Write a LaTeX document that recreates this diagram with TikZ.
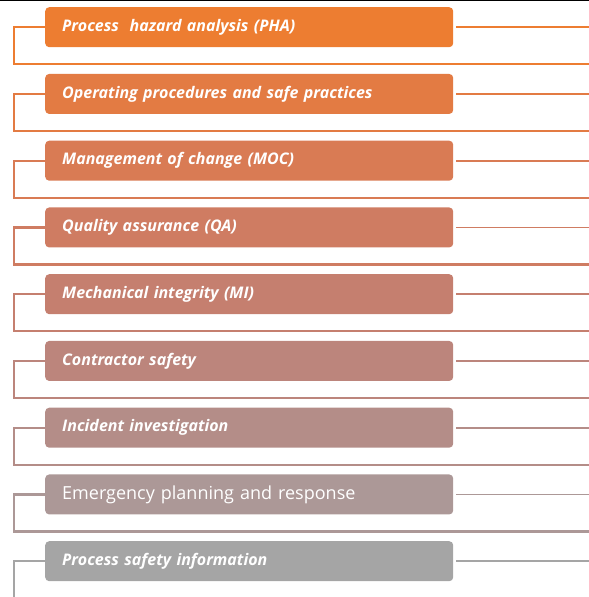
\documentclass[tikz,border=0pt]{standalone}
\usepackage{fontspec}
\setmainfont{Open Sans}
\usetikzlibrary{calc}
% shades running from orange into grey
\definecolor{pha}{RGB}{237,125,49}
\definecolor{opp}{RGB}{227,123,67}
\definecolor{moc}{RGB}{217,123,84}
\definecolor{qa}{RGB}{207,124,98}
\definecolor{mi}{RGB}{197,127,111}
\definecolor{cs}{RGB}{188,133,124}
\definecolor{ii}{RGB}{180,141,136}
\definecolor{epr}{RGB}{172,152,151}
\definecolor{psi}{RGB}{165,165,165}
\begin{document}
\begin{tikzpicture}[x=1bp,y=1bp,
  elem/.style={fill=#1,rounded corners=4bp,anchor=north west,minimum height=40bp,
    text width=374bp,inner xsep=17bp,align=left,text=white,
    font=\fontsize{16bp}{18bp}\selectfont\bfseries\itshape},
  link/.style={draw=#1,line width=2.2bp},
  tail/.style={draw=#1,line width=1.8bp}]
\useasboundingbox (0,0) rectangle (589,597);
\draw[line width=1.5bp] (0,596.25) -- (589,596.25);
\coordinate (left) at (14,0);
\coordinate (right) at (589,0);
\node[elem=pha] (pha) at (45,590) {Process \ hazard analysis (PHA)};
\node[elem=opp] (opp) at (45,523.25) {Operating procedures and safe practices};
\node[elem=moc] (moc) at (45,456.5) {Management of change (MOC)};
\node[elem=qa] (qa) at (45,389.75) {Quality assurance (QA)};
\node[elem=mi] (mi) at (45,323) {Mechanical integrity (MI)};
\node[elem=cs] (cs) at (45,256.25) {Contractor safety};
\node[elem=ii] (ii) at (45,189.5) {Incident investigation};
\node[elem=epr,font=\fontsize{18bp}{18bp}\selectfont] (epr) at (45,122.75) {Emergency planning and response};
\node[elem=psi] (psi) at (45,56) {Process safety information};
\foreach \n in {pha,opp,moc,qa,mi,cs,ii,epr,psi} {
  \draw[link=\n] (\n.west) -- (\n.west -| left) |- ($(\n.west -| right)+(0,-37)$);
  \draw[tail=\n] ([xshift=3bp]\n.east) -- (\n.east -| right);
}
\end{tikzpicture}
\end{document}
